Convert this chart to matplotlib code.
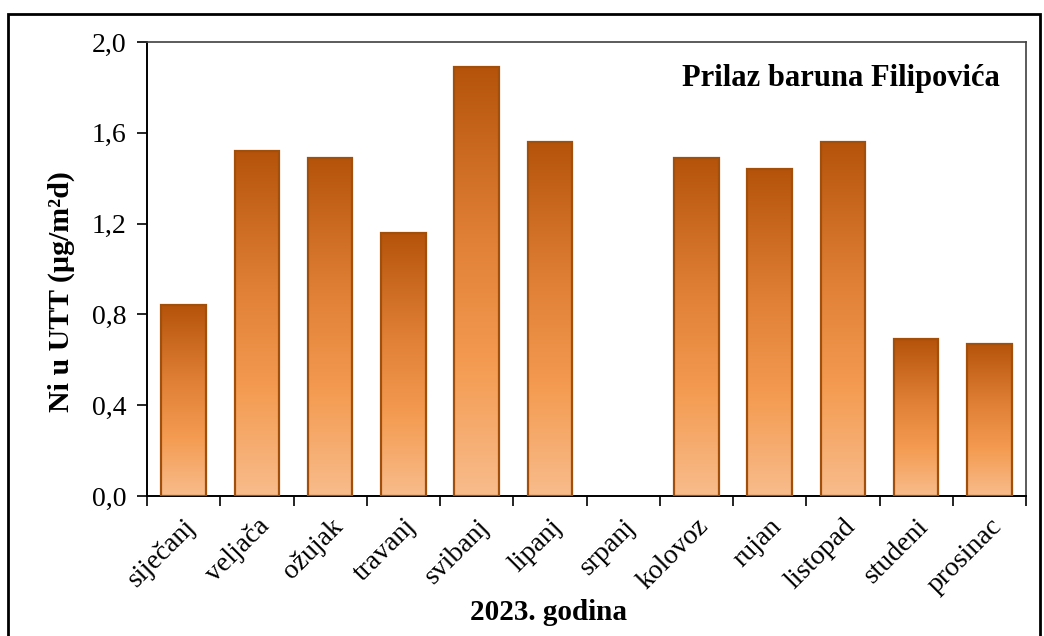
import numpy as np
import matplotlib
matplotlib.use("Agg")
import matplotlib.pyplot as plt
from matplotlib.colors import LinearSegmentedColormap
from matplotlib.patches import Rectangle

months = ["siječanj", "veljača", "ožujak", "travanj", "svibanj", "lipanj",
          "srpanj", "kolovoz", "rujan", "listopad", "studeni", "prosinac"]
ni_values = [0.84, 1.52, 1.49, 1.16, 1.89, 1.56,
             np.nan, 1.49, 1.44, 1.56, 0.69, 0.67]
y_ticks = [0.0, 0.4, 0.8, 1.2, 1.6, 2.0]
y_tick_labels = ["0,0", "0,4", "0,8", "1,2", "1,6", "2,0"]

plt.rcParams["font.family"] = ["Liberation Serif", "DejaVu Serif"]

fig = plt.figure(figsize=(10.44, 6.36), dpi=100)
ax = fig.add_axes([147 / 1044, 1 - 496 / 636, 879 / 1044, 454 / 636])

# outer frame of the chart
fig.patches.append(Rectangle((8 / 1044, -0.05), (1040 - 8) / 1044, 1.05 - 14 / 636,
                             transform=fig.transFigure, fill=False,
                             edgecolor="black", linewidth=2.0))

x = np.arange(len(months))
bars = ax.bar(x, ni_values, width=0.61, color="none",
              edgecolor="#A24F0C", linewidth=1.6, zorder=3)

grad = LinearSegmentedColormap.from_list(
    "bar_grad", [(0.0, "#F8BC8C"), (0.3, "#F49C52"), (0.6, "#E08036"), (1.0, "#B5530A")])
g = np.linspace(0, 1, 256).reshape(-1, 1)
for b, v in zip(bars, ni_values):
    if np.isnan(v):
        continue
    x0, w, h = b.get_x(), b.get_width(), b.get_height()
    im = ax.imshow(g, cmap=grad, origin="lower", aspect="auto",
                   extent=(x0, x0 + w, 0, h), zorder=2)
    im.set_clip_path(b)

ax.set_xlim(-0.5, len(months) - 0.5)
ax.set_ylim(0, 2.0)
ax.set_yticks(y_ticks)
ax.set_yticklabels(y_tick_labels, fontsize=20)
ax.set_xticks(np.arange(len(months) + 1) - 0.5)
ax.set_xticklabels([])
ax.set_xticks(x, minor=True)
ax.set_xticklabels(months, minor=True, rotation=45, ha="right",
                   rotation_mode="anchor", fontsize=20)
ax.tick_params(axis="x", which="minor", length=0, pad=13)
ax.tick_params(axis="x", which="major", length=7, width=1.2, direction="out")
ax.tick_params(axis="y", length=7, width=1.2, direction="out", pad=8)

for s in ["left", "bottom"]:
    ax.spines[s].set_linewidth(1.4)
    ax.spines[s].set_color("black")
for s in ["top", "right"]:
    ax.spines[s].set_linewidth(1.2)
    ax.spines[s].set_color("#404040")

ax.set_ylabel("Ni u UTT (µg/m²d)", fontsize=21.5, fontweight="bold")
ax.yaxis.set_label_coords(-(147 - 75) / 879, (496 - 292) / 454)
fig.text(548 / 1044, 1 - 612 / 636, "2023. godina", ha="center", va="center",
         fontsize=21, fontweight="bold")

ax.text(0.97, 0.92, "Prilaz baruna Filipovića", transform=ax.transAxes,
        ha="right", va="center", fontsize=22, fontweight="bold")

fig.savefig("out.png", dpi=100)
